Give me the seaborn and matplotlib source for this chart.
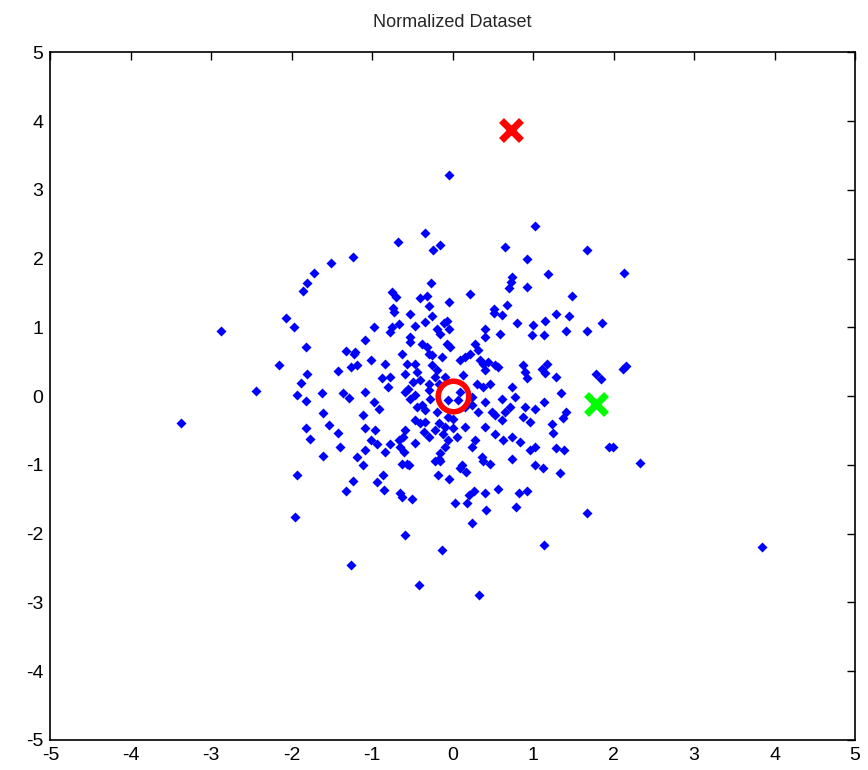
import numpy as np
import pandas as pd
import matplotlib
matplotlib.use("Agg")
import matplotlib.pyplot as plt
import seaborn as sns

# normalized points (x, y pairs)
outer_points = [
    (-1.24, 2.03), (-1.51, 1.94), (-1.72, 1.79), (-1.81, 1.65), (-1.86, 1.53),
    (-0.04, 3.22), (1.02, 2.47), (-0.34, 2.38), (-0.68, 2.24), (-0.16, 2.20),
    (-0.25, 2.12), (0.65, 2.17), (0.93, 2.00), (1.19, 1.77), (0.74, 1.74),
    (0.72, 1.66), (0.70, 1.58), (0.93, 1.59), (-0.27, 1.65), (-0.75, 1.51),
    (-0.71, 1.44), (-0.40, 1.43), (-0.32, 1.45), (-0.29, 1.31), (0.22, 1.48),
    (-0.04, 1.37), (0.67, 1.33), (-0.74, 1.28), (0.51, 1.27),
    (1.67, 2.12), (2.13, 1.79), (1.48, 1.45),
    (-2.07, 1.13), (-1.97, 1.01), (-2.88, 0.95), (-1.82, 0.72), (-1.33, 0.66),
    (-1.23, 0.62), (-1.21, 0.64), (-1.26, 0.43), (-1.19, 0.46), (-2.16, 0.46),
    (-1.42, 0.37), (-1.81, 0.32), (-1.88, 0.19), (-2.44, 0.08), (-1.93, 0.02),
    (-1.82, -0.07), (-1.63, 0.05), (-1.36, 0.05), (-1.29, -0.02), (-1.61, -0.24),
    (-3.38, -0.39), (-1.54, -0.42), (-1.82, -0.47), (-1.42, -0.53), (-1.77, -0.62),
    (-1.40, -0.74), (-1.61, -0.87), (-1.19, -0.88),
    (1.44, 1.16), (1.41, 0.95), (1.67, 0.95), (1.85, 1.07), (2.12, 0.40),
    (2.16, 0.44), (1.78, 0.32), (1.84, 0.25), (1.35, 0.05), (1.41, -0.23),
    (1.37, -0.32), (1.38, -0.78), (1.94, -0.74), (1.99, -0.74), (2.33, -0.97),
    (-1.93, -1.15), (-1.24, -1.23), (-1.33, -1.38), (-1.96, -1.76), (-1.26, -2.46),
    (-1.11, -1.00), (-0.63, -0.99), (-0.57, -0.99), (-0.54, -1.00), (-0.22, -0.95),
    (-0.16, -0.94), (0.11, -1.00), (0.17, -1.10), (0.09, -1.05), (0.38, -0.94),
    (0.47, -0.98), (1.02, -1.00), (1.12, -1.04), (1.33, -1.12), (-0.87, -1.15),
    (-0.94, -1.25), (-0.85, -1.36), (-0.18, -1.15), (-0.04, -1.21), (-0.66, -1.41),
    (-0.63, -1.47), (-0.50, -1.50), (0.03, -1.55), (0.18, -1.55), (0.20, -1.44),
    (0.27, -1.38), (0.40, -1.41), (0.56, -1.35), (0.42, -1.65), (0.82, -1.41),
    (0.93, -1.38), (0.79, -1.61), (0.24, -1.84), (-0.59, -2.02), (-0.13, -2.23),
    (1.13, -2.17), (-0.42, -2.75), (0.33, -2.89), (1.67, -1.70), (3.85, -2.20),
]

ring_points = [
    (-0.735, 1.23), (-0.53, 1.20), (-0.26, 1.16), (-0.07, 1.10), (0.51, 1.21),
    (0.61, 1.18), (0.80, 1.06), (1.00, 1.03), (1.15, 1.10), (1.29, 1.20),
    (-0.98, 1.01), (-0.76, 1.01), (-0.67, 1.05), (-0.47, 1.02), (-0.34, 1.08),
    (-0.20, 0.98), (-0.11, 1.06), (-0.05, 0.98), (0.40, 0.98), (0.59, 0.90),
    (0.98, 0.89), (1.13, 0.89), (-1.09, 0.81), (-0.78, 0.93), (-0.53, 0.86),
    (-0.155, 0.91), (0.40, 0.86), (-1.02, 0.52), (-0.84, 0.475), (0.88, 0.45),
    (0.90, 0.355), (1.11, 0.40), (1.15, 0.33), (1.17, 0.475), (-0.88, 0.26),
    (-0.78, 0.28), (-0.80, 0.136), (0.92, 0.26), (1.29, 0.28), (-1.09, 0.063),
    (0.78, -0.01), (1.13, -0.08), (-0.98, -0.08), (-0.92, -0.18), (0.90, -0.155),
    (1.02, -0.18), (-1.11, -0.276), (0.88, -0.30), (0.96, -0.37), (1.23, -0.40),
    (-1.09, -0.47), (-0.96, -0.495), (-1.02, -0.64), (-0.94, -0.69), (-0.78, -0.69),
    (0.84, -0.66), (1.02, -0.736), (1.25, -0.54), (-0.61, -0.81), (-0.84, -0.81),
    (-0.155, -0.83), (-0.175, -0.907), (0.36, -0.88), (0.74, -0.907), (0.96, -0.785),
    (-1.09, -0.785), (1.29, -0.76),
]

core_points = [
    (-0.528, 0.790), (-0.383, 0.765), (-0.321, 0.717), (-0.073, 0.765), (-0.031, 0.717),
    (0.280, 0.765), (0.321, 0.668), (0.217, 0.620), (0.155, 0.572), (0.093, 0.523),
    (-0.632, 0.620), (-0.300, 0.620), (-0.259, 0.596), (-0.135, 0.572), (0.342, 0.523),
    (0.383, 0.475), (0.445, 0.499), (0.528, 0.451), (0.569, 0.426), (0.404, 0.378),
    (-0.569, 0.475), (-0.466, 0.475), (-0.445, 0.354), (-0.590, 0.329), (-0.259, 0.451),
    (-0.197, 0.378), (-0.404, 0.233), (-0.487, 0.208), (-0.300, 0.184), (-0.217, 0.281),
    (-0.093, 0.281), (-0.176, 0.184), (0.134, 0.305), (-0.549, 0.111), (-0.590, 0.063),
    (-0.528, -0.034), (-0.466, 0.014), (-0.300, 0.087), (-0.280, -0.034), (0.300, 0.184),
    (0.383, 0.136), (0.466, 0.184), (0.093, 0.063), (-0.052, -0.058), (0.072, -0.058),
    (0.238, -0.010), (0.238, -0.131), (0.404, -0.082), (0.735, 0.136), (0.611, -0.034),
    (0.714, -0.155), (-0.445, -0.155), (-0.383, -0.131), (-0.342, -0.203), (-0.197, -0.228),
    (-0.052, -0.300), (0.010, -0.325), (0.155, -0.155), (0.321, -0.228), (0.487, -0.228),
    (0.528, -0.276), (0.652, -0.228), (0.611, -0.349), (-0.466, -0.349), (-0.404, -0.397),
    (-0.342, -0.373), (-0.176, -0.397), (-0.093, -0.446), (0.010, -0.470), (0.155, -0.446),
    (0.404, -0.446), (-0.590, -0.494), (-0.611, -0.591), (-0.362, -0.518), (-0.300, -0.591),
    (-0.217, -0.494), (-0.114, -0.543), (-0.052, -0.640), (-0.093, -0.737), (0.052, -0.591),
    (0.280, -0.640), (0.238, -0.737), (0.528, -0.543), (0.631, -0.640), (0.735, -0.591),
    (-0.673, -0.640), (-0.652, -0.737), (-0.466, -0.688),
]

data = pd.DataFrame(outer_points + ring_points + core_points, columns=["x", "y"])

# mean and the two cross markers
mean_pt = (0.0, 0.0)
red_cross = (0.73, 3.87)
green_cross = (1.78, -0.12)

ticks = list(range(-5, 6))

sns.set_style("white")
plt.rcParams['font.family'] = ['Liberation Sans Narrow', 'Liberation Sans', 'DejaVu Sans']
plt.rcParams['axes.unicode_minus'] = False

fig = plt.figure(figsize=(8.68, 7.70), dpi=100)
ax = fig.add_axes([0.058, 0.039, 0.927, 0.893])

sns.scatterplot(data=data, x="x", y="y", marker="D", color="#0000ff",
                s=26, linewidth=0, ax=ax, zorder=2)

ax.plot(*mean_pt, marker="o", ms=22, mfc="none", mec="#ff0000", mew=4, zorder=3)
ax.plot(*red_cross, marker="x", ms=15, mec="#ff0000", mew=5, zorder=3)
ax.plot(*green_cross, marker="x", ms=15, mec="#00ff00", mew=5, zorder=3)

ax.set_xlim(-5, 5)
ax.set_ylim(-5, 5)
ax.set_xticks(ticks)
ax.set_yticks(ticks)
ax.set_xlabel("")
ax.set_ylabel("")
ax.tick_params(direction="in", length=6, width=1, top=True, right=True,
               labelsize=14, colors="black", pad=5)
for sp in ax.spines.values():
    sp.set_color("black")
    sp.set_linewidth(1.2)
ax.set_title("Normalized Dataset", fontsize=13, pad=18)

fig.savefig("out.png", dpi=100)
